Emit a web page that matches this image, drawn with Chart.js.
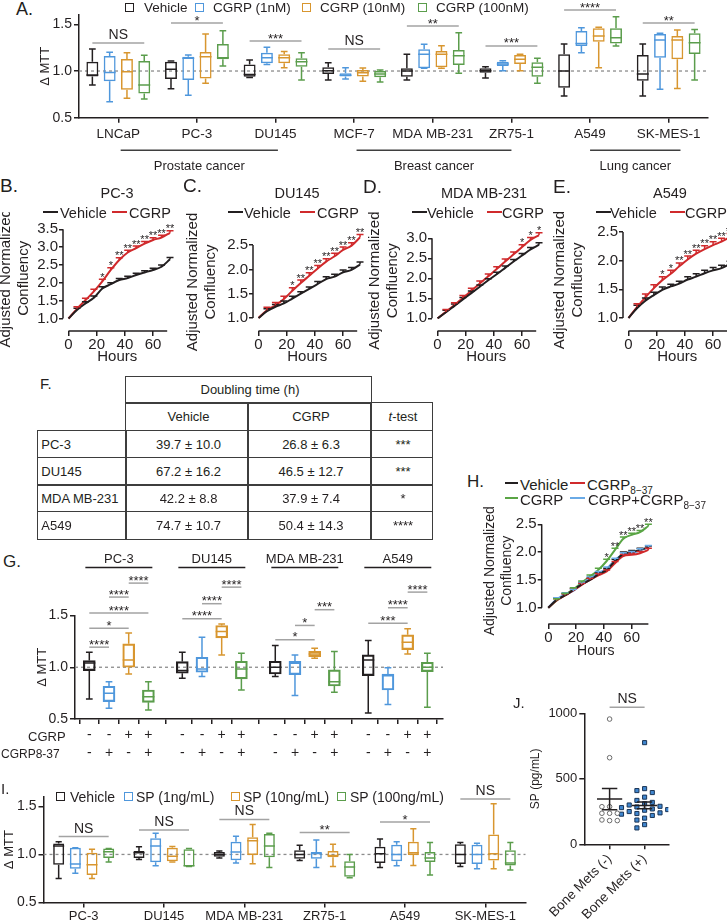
<!DOCTYPE html>
<html>
<head>
<meta charset="utf-8">
<title>CGRP / SP proliferation figure</title>
<script src="https://cdn.jsdelivr.net/npm/chart.js@4.4.1/dist/chart.umd.min.js"></script>
<style>
  html, body { margin: 0; padding: 0; background: #fff; }
  #figure { position: relative; width: 727px; height: 921px; overflow: hidden;
            font-family: "Liberation Sans", Arial, Helvetica, sans-serif; color: #231f20; }
  #figure canvas { position: absolute; }
  .lbl { position: absolute; white-space: nowrap; line-height: 1; z-index: 2; }
  .sw { position: absolute; box-sizing: border-box; z-index: 2; }
  .cell { position: absolute; box-sizing: border-box; border: 1.5px solid #3d3d3d; display: flex;
          align-items: center; font-size: 13px; padding-left: 3px; z-index: 2; white-space: nowrap; }
  sub { font-size: 10px; vertical-align: -4px; line-height: 0; }
</style>
</head>
<body>
<div id="figure"></div>
<script>
// ---------- values ----------

// A. MTT with CGRP, per cell line [min, q1, median, q3, max]
const aLines = ['LNCaP', 'PC-3', 'DU145', 'MCF-7', 'MDA MB-231', 'ZR75-1', 'A549', 'SK-MES-1'];
const aVehicle = [[0.85,0.94,0.957,1.10,1.235],[0.81,0.914,1.018,1.10,1.107],[0.93,0.939,0.964,1.071,1.118],[0.904,0.968,1.004,1.04,1.089],
                  [0.904,0.939,1.0,1.029,1.179],[0.925,0.982,1.004,1.029,1.046],[0.732,0.821,1.0,1.179,1.289],[0.732,0.896,0.968,1.171,1.289]];
const aCgrp1 = [[0.67,0.89,0.985,1.16,1.2],[0.74,0.904,1.136,1.154,1.171],[1.07,1.082,1.143,1.196,1.254],[0.914,0.94,0.954,0.975,1.036],
                [1.029,1.029,1.179,1.232,1.286],[1.004,1.054,1.075,1.10,1.111],[1.196,1.268,1.296,1.429,1.464],[0.804,1.143,1.332,1.396,1.404]];
const aCgrp10 = [[0.707,0.80,0.993,1.13,1.196],[0.868,0.92,1.154,1.204,1.396],[1.036,1.082,1.143,1.179,1.21],[0.89,0.94,0.982,1.01,1.032],
                 [1.029,1.04,1.179,1.214,1.271],[1.004,1.075,1.125,1.171,1.179],[1.036,1.314,1.375,1.457,1.468],[0.814,1.125,1.332,1.375,1.439]];
const aCgrp100 = [[0.70,0.76,0.85,1.107,1.168],[1.054,1.125,1.143,1.29,1.432],[0.904,1.046,1.10,1.136,1.196],[0.882,0.932,0.968,1.0,1.01],
                  [0.975,1.064,1.164,1.225,1.41],[0.868,0.939,1.04,1.093,1.136],[1.268,1.296,1.357,1.457,1.582],[0.904,1.182,1.304,1.404,1.446]];
const aSigText = ['NS', '*', '***', 'NS', '**', '***', '****', '**'];
const aSigLevel = [1.30, 1.514, 1.321, 1.236, 1.482, 1.268, 1.653, 1.514];
const aGroups = ['Prostate cancer', 'Breast cancer', 'Lung cancer'];
const aGroupSpan = [[0.03, 2.03], [3.03, 5.0], [6.0, 7.15]];

// B-E, H. adjusted normalized confluency (mean, SEM) every 6 h
const hours = [0, 6, 12, 18, 24, 30, 36, 42, 48, 54, 60, 66, 72];
const hourTicks = [0, 20, 40, 60];
const bVehicle = [1.0,1.24,1.42,1.58,1.84,1.96,2.08,2.13,2.22,2.29,2.36,2.45,2.66];
const bCgrp    = [1.0,1.27,1.51,1.76,2.04,2.36,2.64,2.85,2.97,3.10,3.20,3.27,3.40];
const bStars   = ['','','','','*','*','**','**','**','**','**','**','**'];
const cVehicle = [1.0,1.14,1.23,1.30,1.40,1.50,1.60,1.70,1.80,1.85,1.94,1.99,2.10];
const cCgrp    = [1.0,1.16,1.26,1.39,1.56,1.72,1.87,2.02,2.16,2.27,2.40,2.49,2.66];
const cStars   = ['','','','','*','**','**','**','**','**','**','**','**'];
const dVehicle = [1.0,1.15,1.31,1.47,1.63,1.79,1.95,2.10,2.26,2.42,2.57,2.72,2.84];
const dCgrp    = [1.0,1.16,1.33,1.51,1.69,1.87,2.05,2.23,2.42,2.60,2.78,2.96,3.08];
const dStars   = ['','','','','','','','','','','*','*','*'];
const eVehicle = [1.0,1.17,1.30,1.40,1.49,1.55,1.60,1.67,1.72,1.78,1.83,1.87,1.94];
const eCgrp    = [1.0,1.19,1.36,1.52,1.66,1.77,1.90,2.02,2.12,2.20,2.27,2.33,2.41];
const eStars   = ['','','','','*','*','**','**','**','**','**','**','**'];
const semVehicle = [0,0.05,0.05,0.05,0.05,0.04,0.04,0.05,0.05,0.05,0.05,0.05,0.05];
const semCgrp    = [0,0.06,0.06,0.06,0.06,0.06,0.06,0.06,0.06,0.06,0.06,0.06,0.06];

const hVehicle = [1.0,1.14,1.22,1.32,1.42,1.50,1.60,1.68,1.84,1.97,2.00,2.04,2.08];
const hAntag   = [1.0,1.13,1.22,1.31,1.41,1.50,1.58,1.65,1.80,1.93,1.95,1.98,2.04];
const hCgrp    = [1.0,1.13,1.23,1.33,1.45,1.56,1.68,1.84,2.04,2.24,2.31,2.36,2.47];
const hCombo   = [1.0,1.15,1.24,1.30,1.43,1.53,1.62,1.70,1.86,1.96,1.98,2.03,2.09];
const hStars   = ['','','','','','','','*','**','**','**','**','**'];
const hSem     = [0,0.03,0.03,0.03,0.03,0.03,0.03,0.03,0.03,0.03,0.03,0.03,0.03];

// F. doubling time table
const fLines = ['PC-3', 'DU145', 'MDA MB-231', 'A549'];
const fVehicle = ['39.7 ± 10.0', '67.2 ± 16.2', '42.2 ± 8.8', '74.7 ± 10.7'];
const fCgrp = ['26.8 ± 6.3', '46.5 ± 12.7', '37.9 ± 7.4', '50.4 ± 14.3'];
const fTest = ['***', '***', '*', '****'];

// G. CGRP and CGRP8-37, [min, q1, median, q3, max] for PC-3, DU145, MDA MB-231, A549
const gLines = ['PC-3', 'DU145', 'MDA MB-231', 'A549'];
const gCgrpSign  = ['-', '-', '+', '+'];
const gAntagSign = ['-', '+', '-', '+'];
const gVehicle = [[0.694,0.968,1.042,1.065,1.145],[0.894,0.942,0.968,1.055,1.145],[0.91,0.935,1.0,1.058,1.21],[0.558,0.919,1.071,1.119,1.258]];
const gAntag   = [[0.603,0.668,0.748,0.816,0.861],[0.91,0.952,0.984,1.097,1.29],[0.726,0.929,1.039,1.058,1.119],[0.639,0.78,0.919,0.935,0.994]];
const gCgrp    = [[0.935,1.0,1.071,1.226,1.332],[1.119,1.284,1.345,1.403,1.419],[1.087,1.103,1.129,1.155,1.184],[1.129,1.171,1.242,1.313,1.371]];
const gCombo   = [[0.587,0.661,0.716,0.78,0.861],[0.78,0.887,0.984,1.058,1.135],[0.758,0.819,0.861,0.974,1.152],[0.613,0.958,1.0,1.048,1.135]];
// [from condition, to condition, bracket height, label]
const gSig = [
  [[0,1,1.194,'****'],[0,2,1.378,'*'],[0,3,1.523,'****'],[1,2,1.678,'****'],[2,3,1.813,'****']],
  [[0,2,1.469,'****'],[1,2,1.614,'****'],[2,3,1.774,'****']],
  [[0,2,1.265,'*'],[1,2,1.404,'*'],[2,3,1.556,'***']],
  [[0,2,1.426,'***'],[1,2,1.575,'****'],[2,3,1.726,'****']]
];

// I. MTT with substance P
const iLines = ['PC-3', 'DU145', 'MDA MB-231', 'ZR75-1', 'A549', 'SK-MES-1'];
const iVehicle = [[0.75,0.893,1.089,1.114,1.132],[0.946,0.964,1.018,1.036,1.079],[0.964,0.975,1.0,1.025,1.036],
                  [0.936,0.954,1.0,1.043,1.096],[0.864,0.911,1.007,1.079,1.161],[0.875,0.9,1.0,1.107,1.125]];
const iSp1 = [[0.804,0.85,0.9,1.071,1.071],[0.882,0.918,1.089,1.168,1.221],[0.911,0.939,1.025,1.132,1.189],
              [0.864,0.954,1.011,1.025,1.15],[0.882,0.929,1.0,1.1,1.132],[0.85,0.9,1.0,1.1,1.118]];
const iSp10 = [[0.75,0.786,0.893,1.018,1.054],[0.921,0.929,0.982,1.071,1.082],[0.904,0.993,1.143,1.179,1.311],
               [0.875,0.971,0.989,1.036,1.107],[0.886,0.993,1.018,1.132,1.268],[0.85,0.936,1.007,1.207,1.529]];
const iSp100 = [[0.921,0.964,1.029,1.061,1.061],[0.875,0.875,0.882,1.054,1.061],[0.864,0.971,1.089,1.214,1.221],
                [0.757,0.768,0.868,0.929,1.0],[0.786,0.921,0.964,1.025,1.125],[0.839,0.886,0.911,1.043,1.125]];
const iSigText = ['NS', 'NS', 'NS', '**', '*', 'NS'];
const iSigLevel = [1.186, 1.255, 1.365, 1.23, 1.337, 1.578];

// J. serum SP (pg/mL)
const jGroups = ['Bone Mets (-)', 'Bone Mets (+)'];
const jNoMets = [956, 661, 287, 287, 237, 237, 237, 181, 186, 181];
const jMets = [776, 425, 410, 395, 360, 335, 320, 310, 300, 290, 285, 280, 270, 265, 260, 250, 240, 235, 230, 220, 200, 185, 150, 125];

// ---------- styling ----------
const ink = '#231f20';
const cBlue = '#4f97dc', cOrange = '#d8962f', cGreen = '#5b9d4c', cRed = '#d02a2c';
const cHGreen = '#5aa545', cHBlue = '#6aaae6', cGrey = '#a3a3a3';
const FONT = '"Liberation Sans", Arial, Helvetica, sans-serif';

Chart.defaults.font.family = FONT;
Chart.defaults.color = ink;
Chart.defaults.animation = false;
Chart.defaults.responsive = false;
Chart.defaults.plugins.legend.display = false;
Chart.defaults.plugins.tooltip.enabled = false;

const fig = document.getElementById('figure');

// canvas placed on the page, chart area pinned by padding + fixed axis sizes
function frame(x0, y0, w, h, area) {
  const c = document.createElement('canvas');
  c.width = w; c.height = h;
  c.style.left = x0 + 'px'; c.style.top = y0 + 'px';
  c.style.width = w + 'px'; c.style.height = h + 'px';
  fig.appendChild(c);
  return {
    canvas: c,
    padding: { left: 0, top: area.t - y0, right: x0 + w - area.r, bottom: 0 },
    yw: area.l - x0,
    xh: y0 + h - area.b
  };
}

function put(html, x, y, size, align, extra) {
  const d = document.createElement('div');
  d.className = 'lbl';
  d.innerHTML = html;
  d.style.left = x + 'px'; d.style.top = y + 'px'; d.style.fontSize = size + 'px';
  const tx = align === 'c' ? '-50%' : (align === 'r' ? '-100%' : '0');
  d.style.transform = 'translate(' + tx + ', -50%)';
  if (extra) Object.assign(d.style, extra);
  fig.appendChild(d);
}

function boxIcon(x, y, color) {
  const d = document.createElement('div');
  d.className = 'sw';
  Object.assign(d.style, { left: x + 'px', top: (y - 4.5) + 'px', width: '9px', height: '9px', border: '1.5px solid ' + color });
  fig.appendChild(d);
}

function lineIcon(x1, x2, y, color) {
  const d = document.createElement('div');
  d.className = 'sw';
  Object.assign(d.style, { left: x1 + 'px', top: (y - 1) + 'px', width: (x2 - x1) + 'px', height: '2px', background: color });
  fig.appendChild(d);
}

function bracket(ctx, x1, x2, y, text) {
  ctx.save();
  ctx.strokeStyle = cGrey; ctx.lineWidth = 1.5;
  ctx.beginPath(); ctx.moveTo(x1, y); ctx.lineTo(x2, y); ctx.stroke();
  ctx.fillStyle = ink; ctx.textAlign = 'center'; ctx.textBaseline = 'alphabetic';
  const ns = text === 'NS';
  ctx.font = (ns ? 14 : 13) + 'px ' + FONT;
  ctx.fillText(text, (x1 + x2) / 2, ns ? y - 4 : y + 1.5);
  ctx.restore();
}

// whiskers + median on top of floating [q1, q3] bars, dashed line at 1.0 behind
const boxPlugin = {
  id: 'boxWhisker',
  beforeDatasetsDraw(chart, args, opts) {
    const { ctx, chartArea: ca } = chart;
    const y = chart.scales.y.getPixelForValue(opts.ref);
    ctx.save();
    ctx.setLineDash([3, 3]); ctx.strokeStyle = '#8c8c8c'; ctx.lineWidth = 1.3;
    ctx.beginPath(); ctx.moveTo(ca.left, y); ctx.lineTo(ca.right, y); ctx.stroke();
    ctx.restore();
  },
  afterDatasetsDraw(chart) {
    const ctx = chart.ctx, ys = chart.scales.y;
    const py = v => ys.getPixelForValue(v);
    chart.data.datasets.forEach((ds, di) => {
      chart.getDatasetMeta(di).data.forEach((bar, i) => {
        const s = ds.stats[i];
        const x = bar.x, w = bar.width, cap = w * 0.28;
        ctx.save();
        ctx.strokeStyle = ds.borderColor; ctx.lineWidth = 1.5;
        ctx.beginPath();
        ctx.moveTo(x, py(s[3])); ctx.lineTo(x, py(s[4]));
        ctx.moveTo(x - cap, py(s[4])); ctx.lineTo(x + cap, py(s[4]));
        ctx.moveTo(x, py(s[1])); ctx.lineTo(x, py(s[0]));
        ctx.moveTo(x - cap, py(s[0])); ctx.lineTo(x + cap, py(s[0]));
        ctx.moveTo(x - w / 2, py(s[2])); ctx.lineTo(x + w / 2, py(s[2]));
        ctx.stroke();
        ctx.restore();
      });
    });
  }
};

// offset (Prism style) axis lines that stop at the end ticks
const axesPlugin = {
  id: 'gpAxes',
  afterDraw(chart, args, opts) {
    const { ctx, chartArea: a } = chart;
    const xs = chart.scales.x, ys = chart.scales.y;
    ctx.save();
    ctx.strokeStyle = ink; ctx.lineWidth = 1.5;
    ctx.beginPath();
    ctx.moveTo(a.left, ys.getPixelForValue(opts.y[0])); ctx.lineTo(a.left, ys.getPixelForValue(opts.y[1]));
    ctx.moveTo(xs.getPixelForValue(opts.x[0]), a.bottom); ctx.lineTo(xs.getPixelForValue(opts.x[1]), a.bottom);
    ctx.stroke();
    ctx.restore();
  }
};

// upward SEM bars with caps, stars above them
const errPlugin = {
  id: 'errbars',
  afterDatasetsDraw(chart) {
    const ctx = chart.ctx, ys = chart.scales.y;
    chart.data.datasets.forEach((ds, di) => {
      chart.getDatasetMeta(di).data.forEach((pt, i) => {
        if (!ds.err[i]) return;
        const top = ys.getPixelForValue(ds.data[i].y + ds.err[i]);
        ctx.save();
        ctx.strokeStyle = ds.borderColor; ctx.lineWidth = 1.5;
        ctx.beginPath();
        ctx.moveTo(pt.x, pt.y); ctx.lineTo(pt.x, top);
        ctx.moveTo(pt.x - 3.5, top); ctx.lineTo(pt.x + 3.5, top);
        ctx.stroke();
        const s = ds.stars && ds.stars[i];
        if (s) {
          ctx.fillStyle = ink; ctx.font = '11px ' + FONT;
          ctx.textAlign = 'center'; ctx.textBaseline = 'alphabetic';
          ctx.fillText(s, pt.x, top + 1.5);
        }
        ctx.restore();
      });
    });
  }
};

// ---------- A and I: grouped box plots ----------
function boxPanel(p) {
  const f = frame(p.x0, p.y0, p.w, p.h, p.area);
  const sets = p.series.map(s => ({
    label: s.name,
    data: s.stats.map(v => [v[1], v[3]]),
    stats: s.stats,
    backgroundColor: 'rgba(255,255,255,0)',
    borderColor: s.color,
    borderWidth: 1.5,
    borderSkipped: false,
    categoryPercentage: p.catPct,
    barPercentage: p.barPct
  }));
  new Chart(f.canvas, {
    type: 'bar',
    data: { labels: p.labels, datasets: sets },
    options: {
      layout: { padding: f.padding },
      scales: {
        x: {
          afterFit: s => { s.height = f.xh; },
          ticks: { font: { size: p.catFont }, padding: p.catPad, color: ink, maxRotation: 0, autoSkip: false },
          grid: { drawOnChartArea: false, offset: false, tickLength: 5, color: ink, lineWidth: 1.5 },
          border: { color: ink, width: 1.5 }
        },
        y: {
          min: 0.5, max: 1.6,
          afterFit: s => { s.width = f.yw; },
          afterBuildTicks: s => { s.ticks = [0.5, 1, 1.5].map(v => ({ value: v })); },
          ticks: { font: { size: 14 }, padding: 2, color: ink, callback: v => v.toFixed(1) },
          grid: { drawOnChartArea: false, tickLength: 5, color: ink, lineWidth: 1.5 },
          border: { color: ink, width: 1.5 },
          title: { display: true, text: 'Δ MTT', font: { size: 13 }, padding: 0, color: ink }
        }
      },
      plugins: { boxWhisker: { ref: 1 } }
    },
    plugins: [boxPlugin, {
      id: 'sigMarks',
      afterDraw(chart) {
        const ctx = chart.ctx, ys = chart.scales.y, xs = chart.scales.x;
        const first = chart.getDatasetMeta(0).data;
        const last = chart.getDatasetMeta(sets.length - 1).data;
        p.sigText.forEach((t, k) => bracket(ctx, first[k].x, last[k].x, ys.getPixelForValue(p.sigLevel[k]), t));
        if (!p.groups) return;
        const b = chart.chartArea.bottom;
        ctx.save();
        ctx.strokeStyle = '#3f3f3f'; ctx.lineWidth = 1.5;
        ctx.fillStyle = ink; ctx.font = '13px ' + FONT; ctx.textAlign = 'center'; ctx.textBaseline = 'middle';
        p.groups.forEach((g, k) => {
          const x1 = xs.getPixelForValue(p.groupSpan[k][0]), x2 = xs.getPixelForValue(p.groupSpan[k][1]);
          ctx.beginPath(); ctx.moveTo(x1, b + 32.5); ctx.lineTo(x2, b + 32.5); ctx.stroke();
          ctx.fillText(g, (x1 + x2) / 2, b + 48.5);
        });
        ctx.restore();
      }
    }]
  });
}

boxPanel({
  x0: 38, y0: 0, w: 689, h: 176, area: { l: 79, r: 708, t: 15, b: 117.7 },
  labels: aLines, catFont: 13.5, catPad: 3, catPct: 0.88, barPct: 0.69,
  series: [
    { name: 'Vehicle', stats: aVehicle, color: ink },
    { name: 'CGRP (1nM)', stats: aCgrp1, color: cBlue },
    { name: 'CGRP (10nM)', stats: aCgrp10, color: cOrange },
    { name: 'CGRP (100nM)', stats: aCgrp100, color: cGreen }
  ],
  sigText: aSigText, sigLevel: aSigLevel, groups: aGroups, groupSpan: aGroupSpan
});

boxPanel({
  x0: 2, y0: 780, w: 528, h: 146, area: { l: 43.5, r: 525.5, t: 796.9, b: 902.4 },
  labels: iLines, catFont: 13, catPad: 1, catPct: 0.83, barPct: 0.66,
  series: [
    { name: 'Vehicle', stats: iVehicle, color: ink },
    { name: 'SP (1ng/mL)', stats: iSp1, color: cBlue },
    { name: 'SP (10ng/mL)', stats: iSp10, color: cOrange },
    { name: 'SP (100ng/mL)', stats: iSp100, color: cGreen }
  ],
  sigText: iSigText, sigLevel: iSigLevel
});

// ---------- B-E, H: growth curves ----------
function growthChart(p) {
  const xmax = 73;
  const xmin = -(p.t0X - p.axisX) / p.pxH;
  const r = p.t0X + xmax * p.pxH;
  const ymin = 1 - (p.xAxisPx - p.y1Px) / p.pxU;
  const t = p.y1Px - (p.yTop - 1) * p.pxU;
  const f = frame(p.x0, p.y0, p.w, p.h, { l: p.axisX, r: r, t: t, b: p.xAxisPx });
  new Chart(f.canvas, {
    type: 'line',
    data: {
      datasets: p.series.map(s => ({
        data: hours.map((h, i) => ({ x: h, y: s.mean[i] })),
        err: s.err, stars: s.stars,
        borderColor: s.color, borderWidth: 2, pointRadius: 0,
        cubicInterpolationMode: 'monotone', fill: false
      }))
    },
    options: {
      layout: { padding: f.padding },
      scales: {
        x: {
          type: 'linear', min: xmin, max: xmax,
          afterFit: s => { s.height = f.xh; },
          afterBuildTicks: s => { s.ticks = hourTicks.map(v => ({ value: v })); },
          ticks: { font: { size: p.tickSize }, padding: 0, color: ink },
          grid: { drawOnChartArea: false, tickLength: 5, color: ink, lineWidth: 1.5 },
          border: { display: false },
          title: { display: true, text: 'Hours', font: { size: p.titleSize }, padding: 0, color: ink }
        },
        y: {
          min: ymin, max: p.yTop,
          afterFit: s => { s.width = f.yw; },
          afterBuildTicks: s => { s.ticks = p.yTicks.map(v => ({ value: v })); },
          ticks: { font: { size: p.tickSize }, padding: 1, color: ink, callback: v => v.toFixed(1) },
          grid: { drawOnChartArea: false, tickLength: 4, color: ink, lineWidth: 1.5 },
          border: { display: false },
          title: { display: true, text: ['Adjusted Normalized', 'Confluency'], font: { size: p.titleSize }, padding: 0, color: ink }
        }
      },
      plugins: { gpAxes: { x: [0, p.xEnd], y: [p.yTicks[0], p.yTicks[p.yTicks.length - 1]] } }
    },
    plugins: [axesPlugin, errPlugin]
  });
}

const pair = (veh, cg, stars) => [
  { mean: veh, err: semVehicle, color: ink },
  { mean: cg, err: semCgrp, color: cRed, stars: stars }
];
const base = { y0: 212, w: 184, h: 154, pxH: 1.41, xAxisPx: 331, xEnd: 70, titleSize: 15, tickSize: 15 };

growthChart(Object.assign({}, base, { x0: -3, axisX: 63, t0X: 68.5, y1Px: 318.5, pxU: 35.7, yTop: 3.6,
  yTicks: [1, 1.5, 2, 2.5, 3, 3.5], series: pair(bVehicle, bCgrp, bStars) }));
growthChart(Object.assign({}, base, { x0: 184, axisX: 253, t0X: 258.5, y1Px: 318, pxU: 48.6, yTop: 2.75,
  yTicks: [1, 1.5, 2, 2.5], series: pair(cVehicle, cCgrp, cStars) }));
growthChart(Object.assign({}, base, { x0: 366, axisX: 432, t0X: 437.5, y1Px: 318.3, pxU: 40, yTop: 3.2,
  yTicks: [1, 1.5, 2, 2.5, 3], series: pair(dVehicle, dCgrp, dStars) }));
growthChart(Object.assign({}, base, { x0: 551, w: 190, axisX: 623, t0X: 628.5, y1Px: 318, pxU: 57.4, yTop: 2.55,
  yTicks: [1, 1.5, 2, 2.5], series: pair(eVehicle, eCgrp, eStars) }));

growthChart({
  x0: 482, y0: 505, w: 188, h: 155, axisX: 541.7, t0X: 548.3, pxH: 1.39, y1Px: 607.7, pxU: 55.6,
  xAxisPx: 624, yTop: 2.62, yTicks: [1, 1.5, 2, 2.5], xEnd: 72, titleSize: 14, tickSize: 15,
  series: [
    { mean: hVehicle, err: hSem, color: ink },
    { mean: hAntag, err: hSem, color: cRed },
    { mean: hCombo, err: hSem, color: cHBlue },
    { mean: hCgrp, err: hSem, color: cHGreen, stars: hStars }
  ]
});

// ---------- G: CGRP +/- CGRP8-37 ----------
(function () {
  const gPos = (g, c) => g * 4.72 + c;
  const f = frame(35, 550, 420, 215, { l: 75, r: 443, t: 615.5, b: 719 });
  const cols = [ink, cBlue, cOrange, cGreen];
  const sets = [gVehicle, gAntag, gCgrp, gCombo].map((st, c) => ({
    data: st.map((v, g) => ({ x: gPos(g, c), y: [v[1], v[3]] })),
    stats: st,
    backgroundColor: 'rgba(255,255,255,0)',
    borderColor: cols[c], borderWidth: 1.5, borderSkipped: false,
    grouped: false, barThickness: 12
  }));
  const tickPos = [];
  gLines.forEach((_, g) => gCgrpSign.forEach((_, c) => tickPos.push(gPos(g, c))));
  new Chart(f.canvas, {
    type: 'bar',
    data: { datasets: sets },
    options: {
      layout: { padding: f.padding },
      scales: {
        x: {
          type: 'linear', min: -0.726, max: -0.726 + 368 / 19.7, offset: false,
          afterFit: s => { s.height = f.xh; },
          afterBuildTicks: s => { s.ticks = tickPos.map(v => ({ value: v })); },
          ticks: { font: { size: 14, lineHeight: 1.3 }, padding: 2, color: ink, autoSkip: false, maxRotation: 0,
                   callback: (v, i) => [gCgrpSign[i % 4], gAntagSign[i % 4]] },
          grid: { drawOnChartArea: false, tickLength: 5, color: ink, lineWidth: 1.5 },
          border: { color: ink, width: 1.5 }
        },
        y: {
          min: 0.5, max: 1.5,
          afterFit: s => { s.width = f.yw; },
          afterBuildTicks: s => { s.ticks = [0.5, 1, 1.5].map(v => ({ value: v })); },
          ticks: { font: { size: 14 }, padding: 2, color: ink, callback: v => v.toFixed(1) },
          grid: { drawOnChartArea: false, tickLength: 5, color: ink, lineWidth: 1.5 },
          border: { color: ink, width: 1.5 },
          title: { display: true, text: 'Δ MTT', font: { size: 13 }, padding: 0, color: ink }
        }
      },
      plugins: { boxWhisker: { ref: 1 } }
    },
    plugins: [boxPlugin, {
      id: 'gMarks',
      afterDraw(chart) {
        const ctx = chart.ctx, xs = chart.scales.x, ys = chart.scales.y, top = chart.chartArea.top;
        gSig.forEach((list, g) => list.forEach(s =>
          bracket(ctx, xs.getPixelForValue(gPos(g, s[0])), xs.getPixelForValue(gPos(g, s[1])), ys.getPixelForValue(s[2]), s[3])));
        ctx.save();
        ctx.strokeStyle = ink; ctx.lineWidth = 1.5; ctx.fillStyle = ink;
        ctx.font = '13px ' + FONT; ctx.textAlign = 'center'; ctx.textBaseline = 'middle';
        gLines.forEach((name, g) => {
          const x1 = xs.getPixelForValue(gPos(g, 0) - 0.2), x2 = xs.getPixelForValue(gPos(g, 3) + 0.2);
          ctx.beginPath(); ctx.moveTo(x1, top - 48); ctx.lineTo(x2, top - 48); ctx.stroke();
          ctx.fillText(name, (x1 + x2) / 2, top - 56);
        });
        ctx.restore();
      }
    }]
  });
})();

// ---------- J: serum SP ----------
(function () {
  function swarm(values, center) {
    const placed = [];
    return values.map(v => {
      let off = 0;
      for (let k = 0; k < 12; k++) {
        off = k === 0 ? 0 : (k % 2 ? -1 : 1) * Math.ceil(k / 2) * 0.22;
        const clash = placed.some(q => Math.hypot((q.off - off) * 35, (q.v - v) * 0.131) < 6.5);
        if (!clash) break;
      }
      placed.push({ off: off, v: v });
      return { x: center + off, y: v };
    });
  }
  const f = frame(528, 690, 199, 231, { l: 584.3, r: 668.3, t: 713.3, b: 844.3 });
  new Chart(f.canvas, {
    type: 'scatter',
    data: {
      datasets: [
        { data: swarm(jNoMets, 1), values: jNoMets, center: 1, pointStyle: 'circle', pointRadius: 2.3,
          backgroundColor: '#ffffff', borderColor: '#6b6b6b', borderWidth: 1 },
        { data: swarm(jMets, 2), values: jMets, center: 2, pointStyle: 'rect', pointRadius: 2.9,
          backgroundColor: '#3f86cf', borderColor: '#1b3556', borderWidth: 1 }
      ]
    },
    options: {
      layout: { padding: f.padding },
      scales: {
        x: {
          type: 'linear', min: 0.277, max: 2.677,
          afterFit: s => { s.height = f.xh; },
          afterBuildTicks: s => { s.ticks = [1, 2].map(v => ({ value: v })); },
          ticks: { font: { size: 13.5 }, padding: 2, color: ink, minRotation: 45, maxRotation: 45,
                   callback: v => jGroups[v - 1] },
          grid: { drawOnChartArea: false, tickLength: 5, color: ink, lineWidth: 1.5 },
          border: { color: ink, width: 1.5 }
        },
        y: {
          min: 0, max: 1000,
          afterFit: s => { s.width = f.yw; },
          afterBuildTicks: s => { s.ticks = [0, 500, 1000].map(v => ({ value: v })); },
          ticks: { font: { size: 13 }, padding: 2, color: ink, callback: v => String(v) },
          grid: { drawOnChartArea: false, tickLength: 5, color: ink, lineWidth: 1.5 },
          border: { color: ink, width: 1.5 },
          title: { display: true, text: 'SP (pg/mL)', font: { size: 12 }, padding: 0, color: ink }
        }
      }
    },
    plugins: [{
      id: 'meanSem',
      afterDatasetsDraw(chart) {
        const ctx = chart.ctx, xs = chart.scales.x, ys = chart.scales.y;
        chart.data.datasets.forEach(ds => {
          const n = ds.values.length;
          const m = ds.values.reduce((a, b) => a + b, 0) / n;
          const sd = Math.sqrt(ds.values.reduce((a, b) => a + (b - m) * (b - m), 0) / (n - 1));
          const se = sd / Math.sqrt(n);
          const X = d => xs.getPixelForValue(ds.center + d), Y = v => ys.getPixelForValue(v);
          ctx.save();
          ctx.strokeStyle = ink; ctx.lineWidth = 1.5;
          ctx.beginPath();
          ctx.moveTo(X(-0.36), Y(m)); ctx.lineTo(X(0.36), Y(m));
          ctx.moveTo(X(0), Y(m - se)); ctx.lineTo(X(0), Y(m + se));
          ctx.moveTo(X(-0.22), Y(m - se)); ctx.lineTo(X(0.22), Y(m - se));
          ctx.moveTo(X(-0.22), Y(m + se)); ctx.lineTo(X(0.22), Y(m + se));
          ctx.stroke();
          ctx.restore();
        });
      },
      afterDraw(chart) {
        const xs = chart.scales.x, ys = chart.scales.y;
        bracket(chart.ctx, xs.getPixelForValue(1), xs.getPixelForValue(2), ys.getPixelForValue(1046), 'NS');
      }
    }]
  });
})();

// ---------- text, legends, table ----------
put('A.', 16, 8.5, 18);
put('B.', 0, 184.5, 19);
put('C.', 183, 184.5, 19);
put('D.', 363, 185.5, 19);
put('E.', 553, 185.5, 19);
put('F.', 40, 382.5, 15);
put('G.', 3, 561, 17);
put('H.', 467, 481, 17);
put('I.', 1, 787.5, 15);
put('J.', 513, 702, 15);

// A legend
[[125, 144, 'Vehicle', ink], [195, 213, 'CGRP (1nM)', cBlue], [302, 320, 'CGRP (10nM)', cOrange], [418, 436, 'CGRP (100nM)', cGreen]]
  .forEach(it => { boxIcon(it[0], 7, it[3]); put(it[2], it[1], 7.5, 13.5); });
// I legend
[[56, 70, 'Vehicle', ink], [124, 136, 'SP (1ng/mL)', cBlue], [231, 243, 'SP (10ng/mL)', cOrange], [337, 350, 'SP (100ng/mL)', cGreen]]
  .forEach(it => { boxIcon(it[0], 796.3, it[3]); put(it[2], it[1], 796.8, 14); });

// B-E titles and legends
[['PC-3', 117], ['DU145', 297], ['MDA MB-231', 484], ['A549', 670]].forEach(t => put(t[0], t[1], 193, 14.5, 'c'));
[[43, 60, 112, 129], [228, 244, 300, 317], [412, 427, 487, 502], [596, 610, 670, 685]].forEach(l => {
  lineIcon(l[0], l[0] + 15, 212, ink); put('Vehicle', l[1], 212.5, 14.5);
  lineIcon(l[2], l[2] + 15, 212, cRed); put('CGRP', l[3], 212.5, 14.5);
});

// H legend
lineIcon(505, 518, 483.3, ink); put('Vehicle', 520, 483.8, 15);
lineIcon(570, 585, 483.3, cRed); put('CGRP<sub>8−37</sub>', 587, 483.8, 15);
lineIcon(505, 518, 498.3, cHGreen); put('CGRP', 520, 498.8, 15);
lineIcon(570, 585, 498.3, cHBlue); put('CGRP+CGRP<sub>8−37</sub>', 588, 498.8, 15);

// G row labels
put('CGRP', 28, 735.5, 13);
put('CGRP8-37', 1, 753.5, 12);

// F table
(function () {
  const colX = [38, 126, 248, 371, 432];
  const rowY = [376.7, 403, 430.7, 457.7, 485, 511.7, 539.3];
  function cell(x1, y1, x2, y2, html, left) {
    const d = document.createElement('div');
    d.className = 'cell';
    Object.assign(d.style, {
      left: (x1 - 0.75) + 'px', top: (y1 - 0.75) + 'px',
      width: (x2 - x1 + 1.5) + 'px', height: (y2 - y1 + 1.5) + 'px',
      justifyContent: left ? 'flex-start' : 'center'
    });
    d.innerHTML = html;
    fig.appendChild(d);
  }
  cell(colX[1], rowY[0], colX[3], rowY[1], 'Doubling time (h)');
  cell(colX[1], rowY[1], colX[2], rowY[2], 'Vehicle');
  cell(colX[2], rowY[1], colX[3], rowY[2], 'CGRP');
  cell(colX[3], rowY[1], colX[4], rowY[2], '<i>t</i>-test');
  fLines.forEach((name, r) => {
    const y1 = rowY[2 + r], y2 = rowY[3 + r];
    cell(colX[0], y1, colX[1], y2, name, true);
    cell(colX[1], y1, colX[2], y2, fVehicle[r]);
    cell(colX[2], y1, colX[3], y2, fCgrp[r]);
    cell(colX[3], y1, colX[4], y2, fTest[r]);
  });
})();
</script>
</body>
</html>
